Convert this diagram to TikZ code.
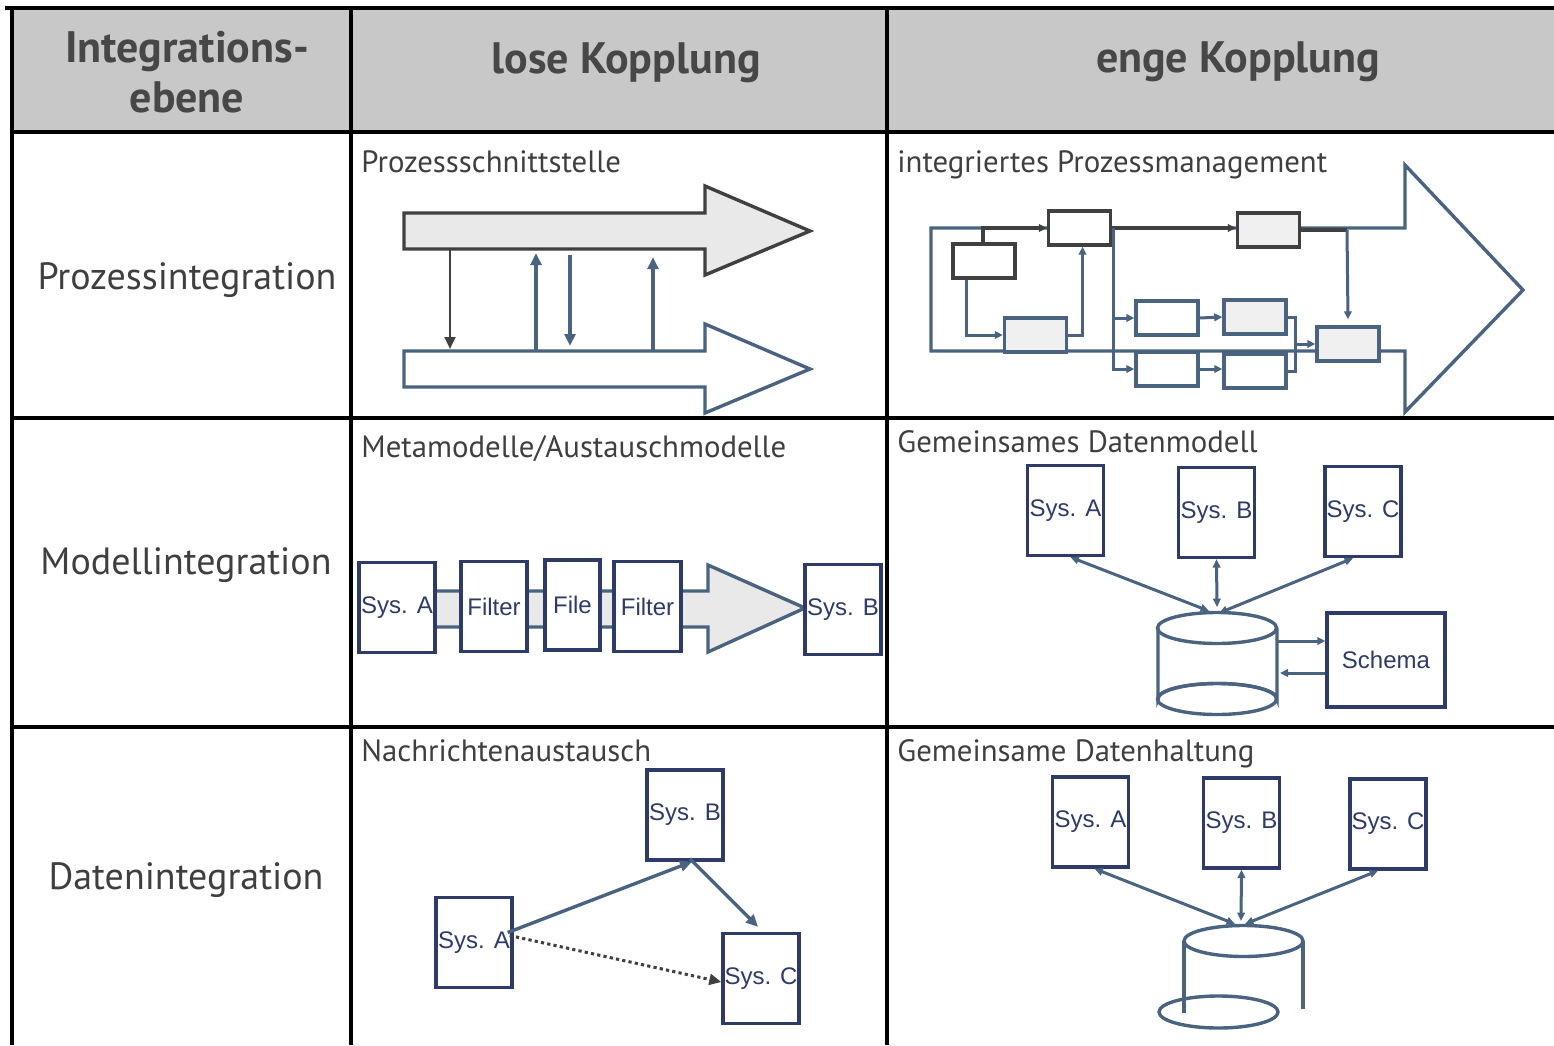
\documentclass[tikz,border=0pt]{standalone}
\usepackage{fontspec}
\setmainfont{PT Sans}
\newfontfamily\sysfont{Liberation Sans}
\usetikzlibrary{arrows.meta,calc}
\definecolor{hdrgray}{HTML}{C8C8C8}
\definecolor{hdrtext}{HTML}{474747}
\definecolor{celltext}{HTML}{3F3F3F}
\definecolor{slate}{HTML}{4A6380}
\definecolor{navy}{HTML}{2E3B68}
\definecolor{darkline}{HTML}{404040}
\definecolor{lightfill}{HTML}{E9E9E9}
\definecolor{boxfill}{HTML}{F0F0F0}
\begin{document}
\begin{tikzpicture}[x=0.5pt,y=-0.5pt,
  grid line/.style={line width=1.6pt,black},
  head text/.style={font=\bfseries\fontsize{22}{26}\selectfont,text=hdrtext,anchor=base,inner sep=0},
  row text/.style={font=\fontsize{19}{23}\selectfont,text=celltext,anchor=base,inner sep=0},
  cell title/.style={font=\fontsize{15.4}{18}\selectfont,text=celltext,anchor=base west,inner sep=0},
  sys/.style={draw=navy,line width=1.7pt,fill=white,inner sep=0,minimum width=38pt,minimum height=45pt,
    text=navy,font=\sysfont\fontsize{12}{14}\selectfont},
  pbox/.style={draw=slate,line width=1.7pt,fill=white,minimum width=31pt,minimum height=17pt,inner sep=0},
  pdark/.style={pbox,draw=darkline},
  shaded/.style={fill=boxfill},
  bl/.style={draw=slate,line width=1.5pt},
  dk/.style={draw=darkline,line width=1.7pt},
  tip/.style={-{Triangle[length=4pt,width=3.8pt]}},
  bigtip/.style={-{Triangle[length=6pt,width=5.4pt]}},
  both/.style={{Triangle[length=4.2pt,width=3.8pt]}-{Triangle[length=4.2pt,width=3.8pt]}},
  flow/.style={line width=1.7pt,line join=miter}
]
\useasboundingbox (0,0) rectangle (1554,1045);

% ---------- table frame ----------
\fill[hdrgray] (12,8) rectangle (1554,132);
\draw[grid line] (5,8) -- (1554,8);
\draw[grid line] (12,132) -- (1554,132);
\draw[grid line] (12,418) -- (1554,418);
\draw[grid line] (12,727) -- (1554,727);
\draw[grid line] (12,8) -- (12,1045);
\draw[grid line] (351,8) -- (351,1045);
\draw[grid line] (887,8) -- (887,1045);

% ---------- header ----------
\node[head text] (h1a) at (187,62) {Integrations-};
\node[head text] (h1b) at (187,112) {ebene};
\node[head text] (h2) at (626,73) {lose Kopplung};
\node[head text] (h3) at (1238,72) {enge Kopplung};

% ---------- row labels ----------
\node[row text] (r1) at (187,289) {Prozessintegration};
\node[row text] (r2) at (186,574) {Modellintegration};
\node[row text] (r3) at (186,889) {Datenintegration};

% ---------- cell titles ----------
\node[cell title] (t11) at (361,172) {Prozessschnittstelle};
\node[cell title] (t12) at (897,172) {integriertes Prozessmanagement};
\node[cell title] (t21) at (361,457) {Metamodelle/Austauschmodelle};
\node[cell title] (t22) at (897,452) {Gemeinsames Datenmodell};
\node[cell title] (t31) at (361,761) {Nachrichtenaustausch};
\node[cell title] (t32) at (897,761) {Gemeinsame Datenhaltung};

% ---------- Prozessschnittstelle ----------
\draw[flow,draw=darkline,fill=lightfill] (404,213) -- (705,213) -- (705,186) -- (810,231)
  -- (705,275) -- (705,249) -- (404,249) -- cycle;
\draw[flow,draw=slate,fill=white] (404,351) -- (705,351) -- (705,324) -- (810,369)
  -- (705,413) -- (705,387) -- (404,387) -- cycle;
\coordinate (u1) at (450,250); \coordinate (l1) at (450,349);
\coordinate (l2) at (536,351); \coordinate (u2) at (536,253);
\coordinate (u3) at (570,255); \coordinate (l3) at (570,346);
\coordinate (l4) at (653,351); \coordinate (u4) at (653,257);
\draw[draw=darkline,line width=1.3pt,bigtip] (u1) -- (l1);
\draw[draw=slate,line width=1.6pt,bigtip] (l2) -- (u2);
\draw[draw=slate,line width=1.6pt,bigtip] (u3) -- (l3);
\draw[draw=slate,line width=1.6pt,bigtip] (l4) -- (u4);

% ---------- integriertes Prozessmanagement ----------
\draw[flow,draw=slate] (931,228) -- (1405,228) -- (1405,165) -- (1523,290)
  -- (1405,412) -- (1405,351) -- (931,351) -- cycle;
\node[pdark] (p1) at (984,261) {};
\node[pdark] (p2) at (1079.5,228) {};
\node[pdark,shaded] (p3) at (1268.5,230) {};
\node[pbox,shaded] (p4) at (1035.5,335) {};
\node[pbox] (p5) at (1167,318) {};
\node[pbox,shaded] (p6) at (1255,317) {};
\node[pbox] (p7) at (1167,369) {};
\node[pbox] (p8) at (1255,371) {};
\node[pbox,shaded] (p9) at (1348,344) {};
\coordinate (j3) at (1347,230);
\coordinate (br) at (1113,228);
\coordinate (bx) at (1295,344);
\draw[dk,tip] ($(p1.north)+(-1,0)$) |- (p2.west);
\draw[dk,tip] (p2.east) -- (p2.east -| p3.west);
\draw[dk] (p3.east) -- (j3);
\draw[bl,tip] (j3) -- ($(p9.north)+(0,-6)$);
\draw[bl,tip] ($(p1.south)+(-18,0)$) |- (p4.west);
\draw[bl,tip] (p4.east) -| ($(p2.south)+(3,0)$);
\draw[bl,tip] (br) |- (p5.west);
\draw[bl,tip] (br) |- (p7.west);
\draw[bl,tip] (p5.east) -- (p6.west);
\draw[bl,tip] (p7.east) -- (p7.east -| p8.west);
\draw[bl] (p6.east) -| (bx) |- (p8.east);
\draw[bl,tip] (bx) -- (p9.west);

% ---------- Metamodelle/Austauschmodelle ----------
\draw[flow,draw=slate,fill=lightfill] (420,591) -- (708,591) -- (708,565) -- (805,608)
  -- (708,652) -- (708,627) -- (420,627) -- cycle;
\node[sys] (ma) at (397,607.5) {Sys. A};
\node[sys,minimum width=33pt] (mf1) at (494,606.5) {Filter};
\node[sys,minimum width=27.5pt] (mfile) at (572.5,605) {File};
\node[sys,minimum width=33.5pt] (mf2) at (647.5,606.5) {Filter};
\node[sys] (mb) at (843,609.5) {Sys. B};

% ---------- Gemeinsames Datenmodell ----------
\node[sys] (dA) at (1065.5,510.5) {Sys. A};
\node[sys] (dB) at (1216.5,512.5) {Sys. B};
\node[sys] (dC) at (1363,511.5) {Sys. C};
\node[sys,minimum width=59pt,minimum height=47pt] (schema) at (1386,660) {Schema};
\draw[flow,draw=slate,fill=white] (1158,628) -- (1158,699) arc[start angle=180,end angle=360,x radius=59.5,y radius=15.5]
  -- (1277,628);
\draw[flow,draw=slate] (1217,628) ellipse[x radius=59.5,y radius=15.5];
\draw[flow,draw=slate] (1217,699) ellipse[x radius=59.5,y radius=15.5];
\coordinate (db1) at (1217,613);
\draw[bl,both] ($(dA.south)+(5,0)$) -- ($(db1)+(-8,-2)$);
\draw[bl,both] (dB.south) -- ($(db1)+(0,-6)$);
\draw[bl,both] ($(dC.south)+(-10,0)$) -- ($(db1)+(2,0)$);
\draw[bl,tip] (1277,641) -- (schema.west |- 0,641);
\draw[bl,tip] (schema.west |- 0,673) -- (1280,673);

% ---------- Nachrichtenaustausch ----------
\node[sys] (nA) at (474,942.5) {Sys. A};
\node[sys] (nB) at (685,815) {Sys. B};
\node[sys] (nC) at (761,978.5) {Sys. C};
\draw[flow,draw=slate,bigtip] ($(nA.east)+(-6,-10)$) -- ($(nB.south)+(7,0)$);
\draw[flow,draw=slate,bigtip] ($(nB.south)+(5,-3)$) -- ($(nC.north)+(-3,-5)$);
\draw[draw=darkline,line width=1.5pt,dash pattern=on 1.6pt off 1.6pt,bigtip]
  ($(nA.east)+(-4,-7)$) -- ($(nC.west)+(0,3.5)$);

% ---------- Gemeinsame Datenhaltung ----------
\node[sys] (hA) at (1090.5,822) {Sys. A};
\node[sys] (hB) at (1241.5,823) {Sys. B};
\node[sys] (hC) at (1388,824) {Sys. C};
\draw[flow,draw=slate] (1243.5,941) ellipse[x radius=59.5,y radius=15.5];
\draw[flow,draw=slate] (1184,941) -- (1184,1013);
\draw[flow,draw=slate] (1303,941) -- (1303,1009);
\draw[flow,draw=slate] (1218.5,1012) ellipse[x radius=59.5,y radius=16];
\coordinate (db2) at (1241,924);
\draw[bl,both] ($(hA.south)+(4,0)$) -- ($(db2)+(-6,0)$);
\draw[bl,both] (hB.south) -- ($(db2)+(0,-3)$);
\draw[bl,both] ($(hC.south)+(-10,0)$) -- ($(db2)+(4,0)$);
\end{tikzpicture}
\end{document}
